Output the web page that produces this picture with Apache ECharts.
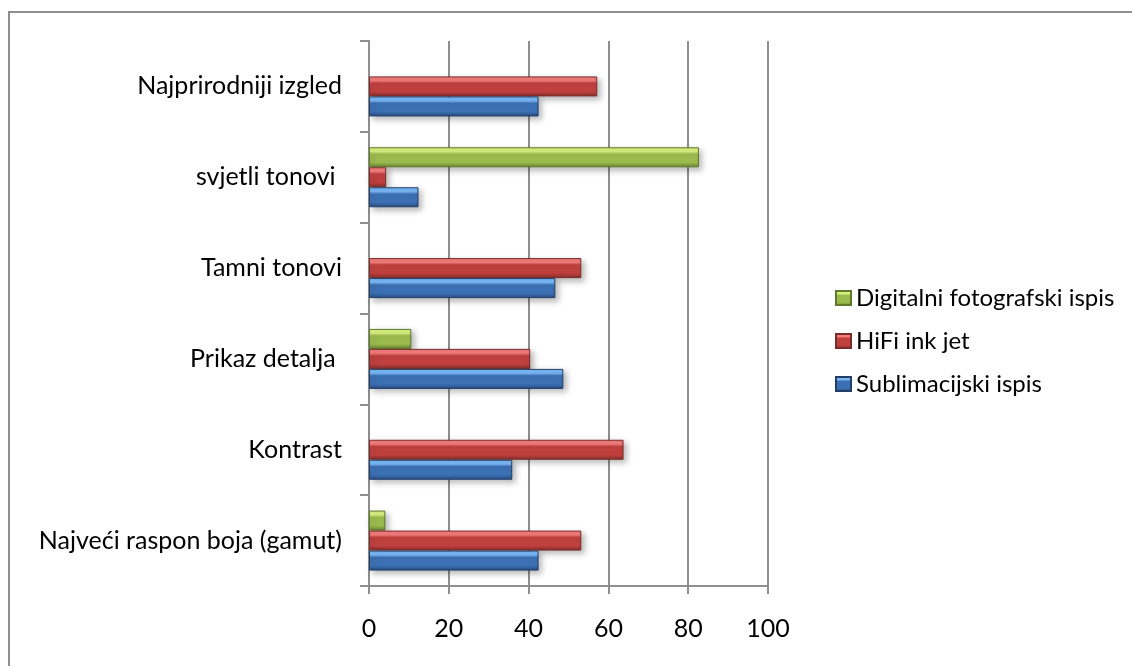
<!DOCTYPE html>
<html>
<head>
<meta charset="utf-8">
<title>Usporedba ispisa</title>
<script src="https://cdn.jsdelivr.net/npm/echarts@6/dist/echarts.min.js"></script>
<style>
    html, body { margin: 0; padding: 0; background: #fff; }
    #chart { width: 1132px; height: 666px; }
</style>
</head>
<body>
<div id="chart"></div>
<script>
(function () {
    'use strict';

    // kategorije odozdo prema gore
    var categories = [
        'Najveći raspon boja (gamut)',
        'Kontrast',
        'Prikaz detalja ',
        'Tamni tonovi',
        'svjetli tonovi ',
        'Najprirodniji izgled'
    ];
    var seriesNames = ['Digitalni fotografski ispis', 'HiFi ink jet', 'Sublimacijski ispis'];
    var digitalni = [4.1, 0, 10.6, 0, 82.7, 0];
    var hifi = [53.2, 63.8, 40.4, 53.2, 4.3, 57.2];
    var sublimacijski = [42.5, 35.9, 48.7, 46.7, 12.4, 42.5];
    var xTicks = [0, 20, 40, 60, 80, 100];

    var FONT = 'Lato, "Open Sans", sans-serif';
    var GRAY = '#8e8e8e';

    // nula = nema stupca (ni obruba)
    function noZero(arr) {
        return arr.map(function (v) { return v === 0 ? '-' : v; });
    }

    function bevel(light, main, dark, border) {
        return {
            color: {
                type: 'linear', x: 0, y: 0, x2: 0, y2: 1,
                colorStops: [
                    { offset: 0, color: light },
                    { offset: 0.22, color: light },
                    { offset: 0.34, color: main },
                    { offset: 0.76, color: main },
                    { offset: 1, color: dark }
                ]
            },
            borderColor: border,
            borderWidth: 1,
            shadowColor: 'rgba(0,0,0,0.28)',
            shadowBlur: 6,
            shadowOffsetX: 3,
            shadowOffsetY: 3
        };
    }

    var chart = echarts.init(document.getElementById('chart'));
    chart.setOption({
        animation: false,
        backgroundColor: '#fff',
        graphic: [{
            type: 'rect',
            shape: { x: 9, y: 12, width: 1200, height: 700 },
            style: { fill: 'none', stroke: GRAY, lineWidth: 2 },
            silent: true
        }],
        legend: {
            orient: 'vertical',
            left: 830,
            top: 281,
            itemWidth: 15,
            itemHeight: 14,
            itemGap: 19,
            icon: 'rect',
            data: seriesNames,
            textStyle: { fontFamily: FONT, fontSize: 24, color: '#000', padding: [0, 0, 0, 0] }
        },
        grid: { left: 369, top: 41, right: 364, bottom: 80, containLabel: false },
        xAxis: {
            type: 'value',
            min: xTicks[0],
            max: xTicks[xTicks.length - 1],
            interval: 20,
            axisLine: { show: true, lineStyle: { color: GRAY, width: 2 } },
            axisTick: { show: true, length: 8, lineStyle: { color: GRAY, width: 2 } },
            splitLine: { show: true, lineStyle: { color: GRAY, width: 2 } },
            axisLabel: { fontFamily: FONT, fontSize: 25, color: '#000', margin: 30 }
        },
        yAxis: {
            type: 'category',
            data: categories,
            axisLine: { show: true, lineStyle: { color: GRAY, width: 2 } },
            axisTick: { show: true, length: 9, lineStyle: { color: GRAY, width: 2 } },
            axisLabel: { fontFamily: FONT, fontSize: 25, color: '#000', margin: 27 }
        },
        series: [
            {
                name: seriesNames[0], type: 'bar', data: noZero(digitalni),
                barWidth: 20, barGap: '0%',
                itemStyle: bevel('#d6ef7f', '#9bbb4f', '#6b8530', '#5f7a2a')
            },
            {
                name: seriesNames[1], type: 'bar', data: noZero(hifi),
                barWidth: 20, barGap: '0%',
                itemStyle: bevel('#f27c7a', '#c0403e', '#84302e', '#7a2c2a')
            },
            {
                name: seriesNames[2], type: 'bar', data: noZero(sublimacijski),
                barWidth: 20, barGap: '0%',
                itemStyle: bevel('#78b6f4', '#3c70b4', '#274c80', '#223f68')
            }
        ]
    });

    window.addEventListener('resize', function () { chart.resize(); });
})();
</script>
</body>
</html>
